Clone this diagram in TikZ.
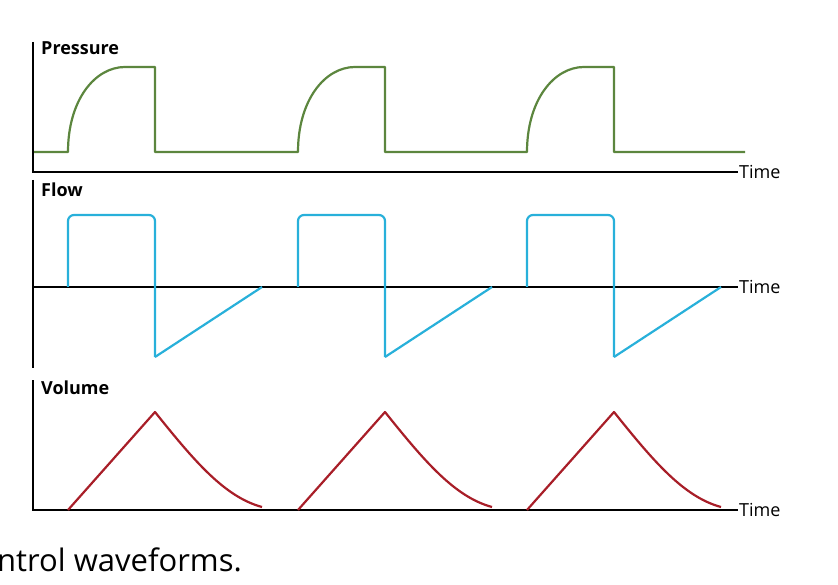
\documentclass[tikz,border=0pt]{standalone}
\usepackage{fontspec}
\setmainfont{Open Sans}
\definecolor{pgreen}{RGB}{92,134,62}
\definecolor{fcyan}{RGB}{40,176,218}
\definecolor{vred}{RGB}{168,30,40}
\begin{document}
\begin{tikzpicture}[x=1pt,y=-1pt,
  ax/.style={line width=1.8pt,black},
  wave/.style={line width=2.2pt,line join=round},
  lab/.style={font=\fontsize{18}{21}\selectfont\bfseries,anchor=west,inner sep=0},
  tlab/.style={font=\fontsize{18}{21}\selectfont,anchor=west,inner sep=0}]
\useasboundingbox (0,0) rectangle (838,585);
% axes
\coordinate (p0) at (33,42); \coordinate (po) at (33,172); \coordinate (pe) at (738,172);
\draw[ax] (p0) -- (po) -- (pe);
\node[tlab] (pt) at (739,172) {Time};
\node[lab] (pl) at (41,48) {Pressure};
\coordinate (f0) at (33,180); \coordinate (f1) at (33,368);
\coordinate (fa) at (33,287); \coordinate (fe) at (738,287);
\draw[ax] (f0) -- (f1); \draw[ax] (fa) -- (fe);
\node[tlab] (ft) at (739,287) {Time};
\node[lab] (fl) at (41,190) {Flow};
\coordinate (v0) at (33,380); \coordinate (vo) at (33,510); \coordinate (ve) at (738,510);
\draw[ax] (v0) -- (vo) -- (ve);
\node[tlab] (vt) at (739,510) {Time};
\node[lab] (vl) at (41,388) {Volume};
% pressure
\draw[wave,pgreen] (34,152) -- (68,152)
 \foreach \s in {0,230,459} {
   -- (68+\s,152) .. controls (68+\s,100) and (95+\s,67) .. (125+\s,67) -- (155+\s,67) -- (155+\s,152) -- (155+\s+1,152)
 } -- (745,152);
% flow
\foreach \s in {0,230,459}{
\draw[wave,fcyan,rounded corners=6pt] (68+\s,287) -- (68+\s,215) -- (155+\s,215) -- (155+\s,357);
\draw[wave,fcyan] (155+\s,357) -- (262+\s,287);
}
% volume
\foreach \s in {0,230,459}{
\draw[wave,vred] (68+\s,510) -- (155+\s,412) .. controls (195+\s,462) and (225+\s,497) .. (262+\s,507);
}
\node[font=\fontsize{31}{36}\selectfont,anchor=west,inner sep=0] (cap) at (-3,560) {ntrol waveforms.};
\end{tikzpicture}
\end{document}
